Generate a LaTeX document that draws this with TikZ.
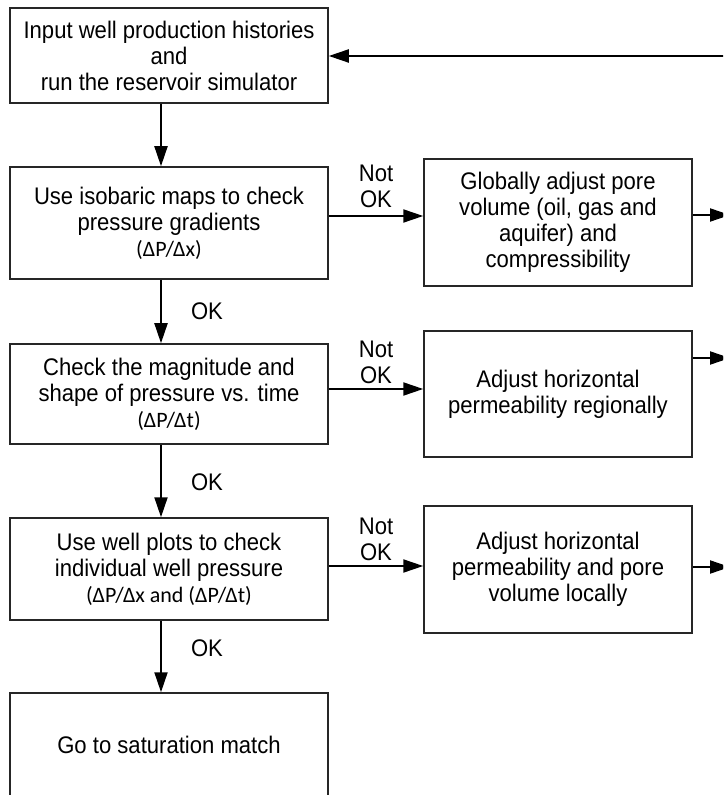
\documentclass[tikz,border=0pt]{standalone}
\usepackage{fontspec}
\setmainfont[FakeStretch=0.92]{Liberation Sans}
\newfontfamily\calib{Carlito}
\usetikzlibrary{arrows.meta}
\begin{document}
\begin{tikzpicture}[x=0.5pt,y=-0.5pt,
  txt/.style={font=\fontsize{12}{13}\selectfont, align=center, inner sep=0pt},
  boxstyle/.style={txt, draw=black!85, line width=0.75pt, rectangle},
  leftbox/.style={boxstyle, minimum width=159pt},
  rightbox/.style={boxstyle, minimum width=134pt},
  arr/.style={line width=1pt, -{Triangle[length=10pt,width=6.5pt]}}]
\useasboundingbox (0,0) rectangle (723,795);
\clip (0,0) rectangle (723,795);

\node[leftbox, minimum height=47.5pt] (b1) at (169,55.5)
  {Input well production histories\\and\\ run the reservoir simulator};
\node[leftbox, minimum height=56pt] (b2) at (169,223)
  {Use isobaric maps to check\\pressure gradients\\{\calib\fontsize{11}{13}\selectfont (ΔP/Δx)}};
\node[rightbox, minimum height=63.5pt] (b3) at (558,222.5)
  {Globally adjust pore\\volume (oil, gas and\\aquifer) and\\compressibility};
\node[leftbox, minimum height=50pt] (b4) at (169,394)
  {Check the magnitude and\\shape of pressure vs. time\\{\calib\fontsize{11}{13}\selectfont (ΔP/Δt)}};
\node[rightbox, minimum height=63pt] (b5) at (558,394)
  {Adjust horizontal\\permeability regionally};
\node[leftbox, minimum height=51pt] (b6) at (169,569)
  {Use well plots to check\\individual well pressure\\{\calib\fontsize{11}{13}\selectfont (ΔP/Δx and (ΔP/Δt)}};
\node[rightbox, minimum height=63.5pt] (b7) at (558,569.5)
  {Adjust horizontal\\permeability and pore\\volume locally};
\node[leftbox, minimum height=52pt] (b8) at (169,745)
  {Go to saturation match};

\node[txt] (ok1) at (207,311) {OK};
\node[txt] (ok2) at (207,482) {OK};
\node[txt] (ok3) at (207,648) {OK};
\node[txt] (n1) at (376,186) {Not\\OK};
\node[txt] (n2) at (376,362.5) {Not\\OK};
\node[txt] (n3) at (376,539) {Not\\OK};

\coordinate (vx) at (161,0);
\coordinate (h1) at (0,216);
\coordinate (h2) at (0,389);
\coordinate (h3) at (0,566);
\coordinate (i1) at (735,56);
\coordinate (o1) at (730,215);
\coordinate (o2) at (730,358);
\coordinate (o3) at (730,567);

\draw[arr] (i1) -- (b1.east |- i1);
\draw[arr] (b1.south -| vx) -- (b2.north -| vx);
\draw[arr] (b2.south -| vx) -- (b4.north -| vx);
\draw[arr] (b4.south -| vx) -- (b6.north -| vx);
\draw[arr] (b6.south -| vx) -- (b8.north -| vx);
\draw[arr] (b2.east |- h1) -- (b3.west |- h1);
\draw[arr] (b4.east |- h2) -- (b5.west |- h2);
\draw[arr] (b6.east |- h3) -- (b7.west |- h3);
\draw[arr] (b3.east |- o1) -- (o1);
\draw[arr] (b5.east |- o2) -- (o2);
\draw[arr] (b7.east |- o3) -- (o3);
\end{tikzpicture}
\end{document}
